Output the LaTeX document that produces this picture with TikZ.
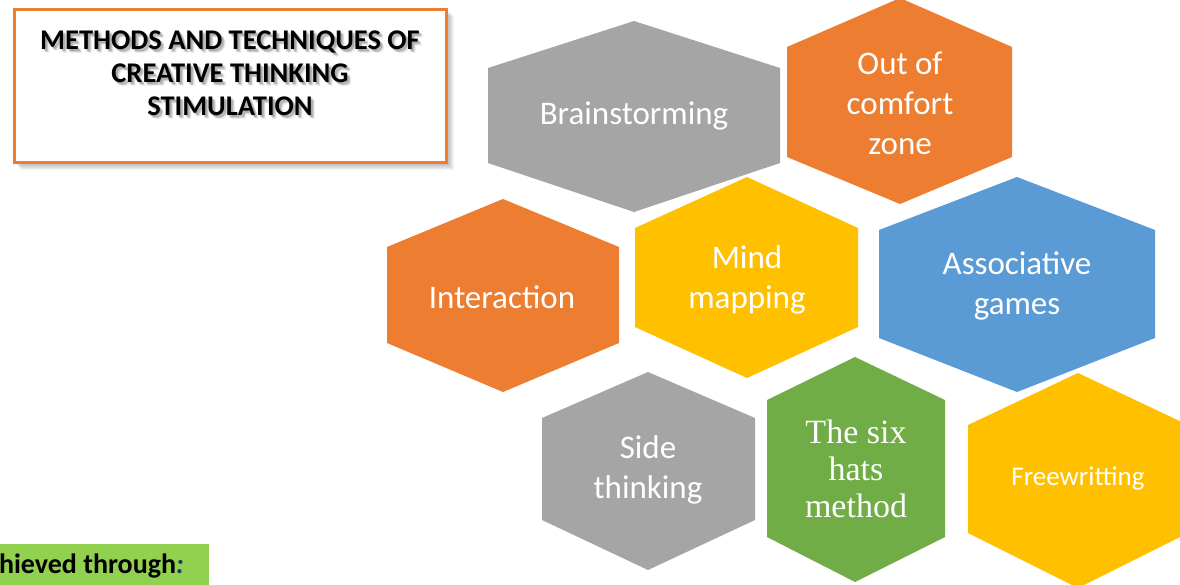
\documentclass[tikz,border=0pt]{standalone}
\usepackage{fontspec}
\setmainfont{Carlito}
\newfontfamily\serifhex{Liberation Serif}
\definecolor{hexgray}{HTML}{A5A5A5}
\definecolor{hexorange}{HTML}{ED7D31}
\definecolor{hexyellow}{HTML}{FFC000}
\definecolor{hexblue}{HTML}{5B9BD5}
\definecolor{hexgreen}{HTML}{70AD47}
\definecolor{labelgreen}{HTML}{92D050}
\definecolor{colonblue}{HTML}{1F3864}
% hexagon with pointed top and bottom, vertical sides:
% #1 colour, #2 left x, #3 centre x, #4 right x,
% #5 top y, #6 upper side y, #7 lower side y, #8 bottom y
\newcommand\hexcell[8]{%
  \fill[#1] (#3,#5) -- (#4,#6) -- (#4,#7) -- (#3,#8) -- (#2,#7) -- (#2,#6) -- cycle;}
\newcommand\titlelines{METHODS AND TECHNIQUES OF\\CREATIVE THINKING\\STIMULATION}
\begin{document}
\begin{tikzpicture}[x=1pt,y=-1pt,
  hextext/.style={text=white, align=center, inner sep=0pt,
    font=\fontsize{33}{40}\selectfont},
  titletext/.style={align=center, inner sep=0pt,
    font=\bfseries\fontsize{28.5}{33}\selectfont}]
\useasboundingbox (0,0) rectangle (1180,584);
\clip (0,0) rectangle (1180,584);

% title box with a soft shadow
\foreach \d in {1,2,...,7}
  \fill[black, opacity=0.045] (14+\d,9+\d) rectangle (447+\d,163+\d);
\node[draw=hexorange, line width=2.5pt, fill=white, inner sep=0pt,
  minimum width=432pt, minimum height=153pt] (titlebox) at (230.5,86) {};
% blurred glow behind the title
\foreach \dx/\dy [count=\k] in {1/1,2/2,3/3,2/3,3/2,4/4}
  \node[titletext, text=black, opacity=0.07] (glow\k) at (230+\dx,73+\dy) {\titlelines};
\node[titletext] (title) at (230,73) {\titlelines};

% honeycomb of methods
\hexcell{hexgray}{488}{634}{780}{21}{68}{163}{212}
\node[hextext] (brain) at (634,116) {Brainstorming};

\hexcell{hexorange}{787}{900}{1012}{-2}{47}{157}{204}
\node[hextext] (comfort) at (900,103) {Out of\\comfort\\zone};

\hexcell{hexorange}{387}{503}{619}{199}{247}{343}{392}
\node[hextext] (interact) at (502,297) {Interaction};

\hexcell{hexyellow}{635}{747}{858}{177}{228}{327}{378}
\node[hextext] (mind) at (747,280) {Mind\\mapping};

\hexcell{hexblue}{879}{1017}{1155}{177}{230}{338}{392}
\node[hextext] (assoc) at (1017,286) {Associative\\games};

\hexcell{hexgray}{542}{648}{755}{372}{418}{520}{570}
\node[hextext] (side) at (648,470) {Side\\thinking};

\hexcell{hexgreen}{767}{855}{945}{357}{400}{537}{582}
\node[hextext, font=\serifhex\fontsize{34}{37}\selectfont] (hats) at (856,469)
  {The six\\hats\\method};

\hexcell{hexyellow}{968}{1078}{1188}{373}{425}{533}{588}
\node[hextext, font=\fontsize{27}{32}\selectfont] (free) at (1078,478) {Freewritting};

% label at the lower left
\fill[labelgreen] (-2,544) rectangle (209,590);
\node[anchor=base east, inner sep=0pt, font=\bfseries\fontsize{28}{33}\selectfont]
  (achieved) at (184,573) {Achieved through\textcolor{colonblue}{\textit{:}}};
\end{tikzpicture}
\end{document}
